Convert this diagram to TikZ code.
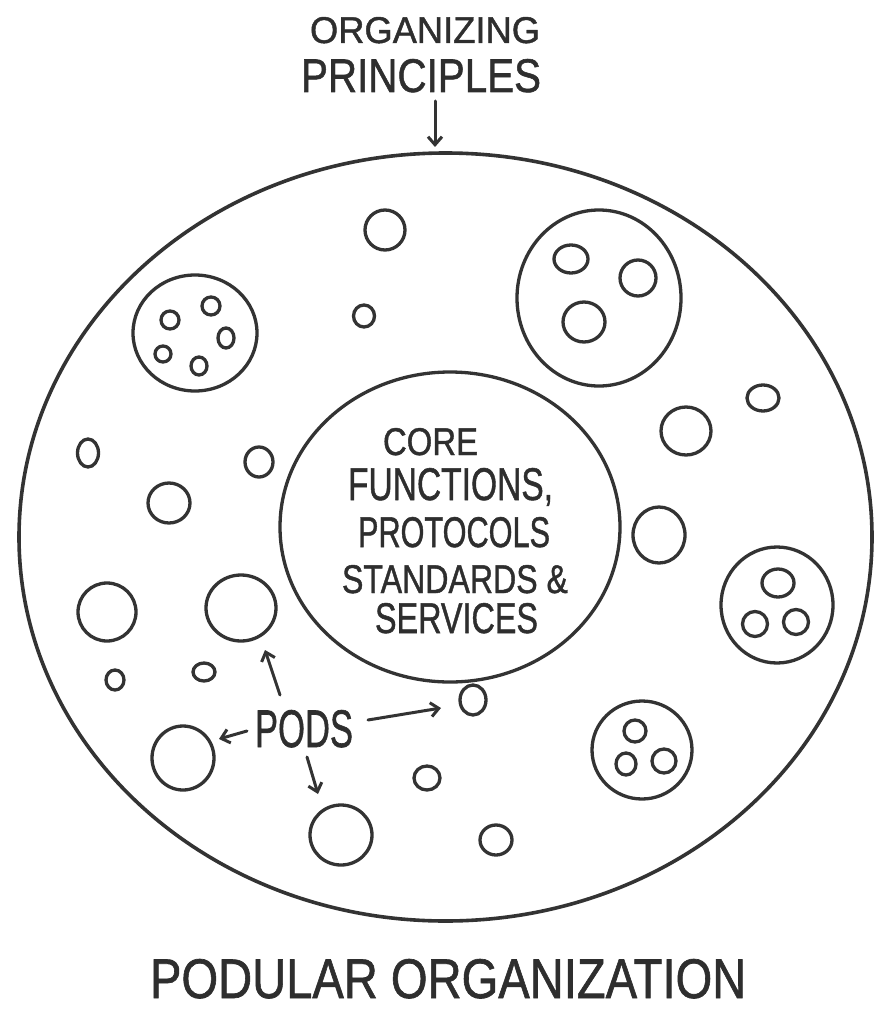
\documentclass[tikz,border=0pt]{standalone}
\usepackage{fontspec}
\setmainfont{Liberation Sans}
\newfontface\handfont{Liberation Sans}[FakeBold=1.2]
\usetikzlibrary{shapes.geometric,arrows.meta}
\newcommand{\mkpod}[5]{\node[blob, minimum width=#4pt, minimum height=#5pt] (#1) at (#2,#3) {};}
\newcommand{\mktext}[6]{\node[lbl, anchor=base west] (#1) at (#2,#3) {\resizebox{#4pt}{#5pt}{\handfont #6}};}
\begin{document}
\begin{tikzpicture}[x=1pt,y=-1pt,
  ink/.style={draw=black!80, line width=3.3pt},
  blob/.style={ink, ellipse, inner sep=0pt},
  arr/.style={draw=black!80, line width=3pt, line cap=round, -{Straight Barb[length=8pt,width=14pt,line width=3pt]}},
  lbl/.style={inner sep=0pt, outer sep=0pt, text=black!82}]
\useasboundingbox (0,0) rectangle (874,1011);
\fill[white] (0,0) rectangle (874,1011);

% outer organisation and core
\node[blob, line width=3.6pt, minimum width=853pt, minimum height=768pt] (big) at (445.5,537) {};
\node[blob, minimum width=340pt, minimum height=310pt] (core) at (450,527) {};

% loose pods
\mkpod{c1}{385}{230}{40}{40}
\mkpod{c2}{364}{316}{21}{22}
\mkpod{c3}{88}{453}{21}{28}
\mkpod{c4}{259}{462}{28}{30}
\mkpod{c5}{169}{503}{42}{40}
\mkpod{c6}{686}{431}{50}{48}
\mkpod{c7}{763}{398}{32}{26}
\mkpod{c8}{659}{535}{52}{56}
\mkpod{c9}{107}{612}{58}{58}
\mkpod{c10}{241}{608}{70}{66}
\mkpod{c11}{115}{680}{18}{20}
\mkpod{c12}{204}{672}{22}{18}
\mkpod{c13}{473}{700}{26}{30}
\mkpod{c14}{183}{758}{62}{64}
\mkpod{c15}{427}{778}{26}{24}
\mkpod{c16}{341}{835}{62}{60}
\mkpod{c17}{496}{840}{32}{30}

% pods of pods
\mkpod{ptr}{599}{298}{164}{176}
\mkpod{ptra}{571}{259}{34}{28}
\mkpod{ptrb}{638}{278}{36}{36}
\mkpod{ptrc}{584}{322}{42}{40}

\mkpod{ptl}{195}{333}{124}{116}
\mkpod{ptla}{170}{320}{18}{18}
\mkpod{ptlb}{211}{306}{18}{18}
\mkpod{ptlc}{226}{338}{16}{20}
\mkpod{ptld}{163}{354}{16}{16}
\mkpod{ptle}{199}{366}{16}{18}

\mkpod{pr}{777}{605}{112}{116}
\mkpod{pra}{778}{583}{32}{28}
\mkpod{prb}{755}{624}{25}{25}
\mkpod{prc}{796}{622}{25}{25}

\mkpod{pbr}{642}{750}{100}{98}
\mkpod{pbra}{635}{731}{22}{22}
\mkpod{pbrb}{626}{764}{20}{22}
\mkpod{pbrc}{664}{761}{24}{24}

% texts
\mktext{op1}{310}{43}{230}{26}{ORGANIZING}
\mktext{op2}{301}{92}{240}{33}{PRINCIPLES}
\mktext{t1}{383}{455}{95}{27}{CORE}
\mktext{t2}{348}{500}{205}{32}{FUNCTIONS,}
\mktext{t3}{358}{547}{192}{30}{PROTOCOLS}
\mktext{t4}{342}{593}{226}{28}{STANDARDS \&}
\mktext{t5}{375}{633}{163}{30}{SERVICES}
\mktext{pods}{255}{747}{98}{37}{PODS}
\mktext{cap}{150}{998}{596}{39}{PODULAR ORGANIZATION}

% arrows
\coordinate (opA) at (435,101);
\coordinate (opB) at (435,147);
\coordinate (upA) at (280,695);
\coordinate (upB) at (265,650);
\coordinate (lfA) at (247,731);
\coordinate (lfB) at (219,739);
\coordinate (rtA) at (368,720);
\coordinate (rtB) at (441,708);
\coordinate (dnA) at (307,757);
\coordinate (dnB) at (318,794);
\draw[arr] (opA) -- (opB);
\draw[arr] (upA) -- (upB);
\draw[arr] (lfA) -- (lfB);
\draw[arr] (rtA) -- (rtB);
\draw[arr] (dnA) -- (dnB);
\end{tikzpicture}
\end{document}
